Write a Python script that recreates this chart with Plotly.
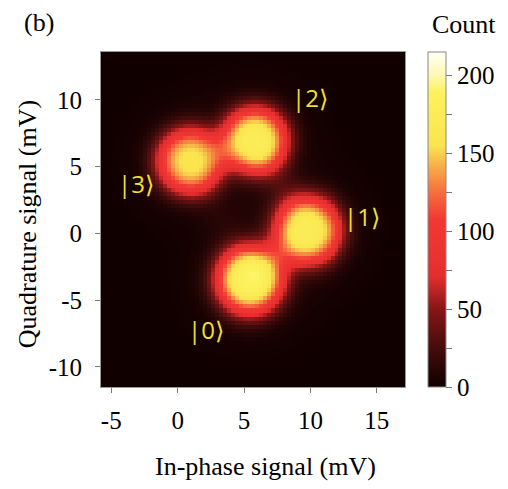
import numpy as np
import plotly.graph_objects as go

# Readout states: blob centres (mV), core peak counts and widths (mV)
states = ["|0⟩", "|1⟩", "|2⟩", "|3⟩"]
center_i = [5.4, 9.8, 5.8, 0.9]
center_q = [-3.5, 0.2, 7.0, 5.4]
peak_count = [172, 156, 160, 144]
blob_width = [2.6, 2.6, 2.52, 2.55]

# Broad low-level halo around each state
halo_count = [15, 14, 13, 12]
halo_width = [3.7, 3.7, 3.7, 3.7]

# Transition streaks between states (index pairs) and their count level
bridge_from = [0, 2, 3]
bridge_to = [1, 1, 0]
bridge_level = [12, 14, 6]

# State label positions (mV)
label_i = [2.16, 13.85, 9.96, -3.15]
label_q = [-7.2, 1.3, 10.15, 3.7]

# Histogram bins (mV)
bin_size = 0.3
i_bins = np.arange(-5.75, 17.2, bin_size)
q_bins = np.arange(-11.45, 13.65, bin_size)

cb_vals = [0, 25, 50, 75, 100, 125, 150, 175, 200]
cb_text = ["0", "", "50", "", "100", "", "150", "", "200"]
x_ticks = [-5, 0, 5, 10, 15]
x_tick_text = ["-5", "0", "5", "10", "15"]
y_ticks = [-10, -5, 0, 5, 10]
y_tick_text = ["-10", "-5", "0", "5", "10"]

I, Q = np.meshgrid(i_bins, q_bins)
counts = np.zeros_like(I)
for ci, cq, a, w, ha, hw in zip(center_i, center_q, peak_count, blob_width, halo_count, halo_width):
    r = np.hypot(I - ci, Q - cq)
    counts += a * np.exp(-(r / w) ** 3) + ha * np.exp(-(r / hw) ** 2)

# streaks fade to zero at both state centres
for a_idx, b_idx, lvl in zip(bridge_from, bridge_to, bridge_level):
    ax, ay = center_i[a_idx], center_q[a_idx]
    bx, by = center_i[b_idx], center_q[b_idx]
    dx, dy = bx - ax, by - ay
    L2 = dx * dx + dy * dy
    t = np.clip(((I - ax) * dx + (Q - ay) * dy) / L2, 0, 1)
    d = np.hypot(I - (ax + t * dx), Q - (ay + t * dy))
    counts += lvl * 4 * t * (1 - t) * np.exp(-(d / 1.4) ** 2)

zmax = 215
colorscale = [
    [0.0, "rgb(16,0,0)"],
    [0.116, "rgb(68,12,12)"],
    [0.233, "rgb(135,22,22)"],
    [0.33, "rgb(228,46,46)"],
    [0.50, "rgb(242,56,52)"],
    [0.58, "rgb(245,110,62)"],
    [0.66, "rgb(247,175,72)"],
    [0.72, "rgb(250,228,80)"],
    [0.88, "rgb(252,242,92)"],
    [0.93, "rgb(255,248,180)"],
    [1.0, "rgb(255,255,245)"],
]

serif = "Liberation Serif, Times New Roman, serif"

fig = go.Figure(
    go.Heatmap(
        x=i_bins,
        y=q_bins,
        z=counts,
        zmin=0,
        zmax=zmax,
        colorscale=colorscale,
        zsmooth=False,
        colorbar=dict(
            x=1.076,
            xanchor="left",
            xpad=0,
            y=0.5,
            yanchor="middle",
            len=1,
            ypad=0,
            thickness=18,
            outlinecolor="#888888",
            outlinewidth=1,
            tickmode="array",
            tickvals=cb_vals,
            ticktext=cb_text,
            ticks="outside",
            ticklen=6,
            tickcolor="#777777",
            tickfont=dict(family=serif, size=25, color="black"),
        ),
    )
)

annotations = []
for s, li, lq in zip(states, label_i, label_q):
    annotations.append(
        dict(x=li, y=lq, xref="x", yref="y", text=s, showarrow=False,
             font=dict(family="Open Sans, DejaVu Sans, sans-serif", size=24, color="#f2e030"))
    )
annotations += [
    dict(x=-0.26, y=1.0876, xref="paper", yref="paper", text="(b)", showarrow=False,
         xanchor="left", yanchor="middle", font=dict(family=serif, size=26, color="black")),
    dict(x=1.195, y=1.0816, xref="paper", yref="paper", text="Count", showarrow=False,
         xanchor="center", yanchor="middle", font=dict(family=serif, size=26, color="black")),
    dict(x=0.542, y=-0.237, xref="paper", yref="paper", text="In-phase signal (mV)", showarrow=False,
         xanchor="center", yanchor="middle", font=dict(family=serif, size=26, color="black")),
    dict(x=-0.239, y=0.487, xref="paper", yref="paper", text="Quadrature signal (mV)", showarrow=False,
         textangle=-90, xanchor="center", yanchor="middle", font=dict(family=serif, size=26, color="black")),
]

fig.update_layout(
    width=508,
    height=489,
    margin=dict(l=101, r=101, t=52, b=102, pad=0),
    paper_bgcolor="white",
    plot_bgcolor="rgb(16,0,0)",
    annotations=annotations,
    xaxis=dict(
        range=[-5.77, 17.12], tickvals=x_ticks, ticktext=x_tick_text, ticks="outside", ticklen=5,
        tickcolor="#777777", showgrid=False, zeroline=False, showline=True, mirror=True,
        linecolor="#999999", linewidth=1,
        tickfont=dict(family=serif, size=25, color="black"), ticklabelstandoff=6,
    ),
    yaxis=dict(
        range=[-11.5, 13.58], tickvals=y_ticks, ticktext=y_tick_text, ticks="outside", ticklen=5,
        tickcolor="#777777", showgrid=False, zeroline=False, showline=True, mirror=True,
        linecolor="#999999", linewidth=1,
        tickfont=dict(family=serif, size=25, color="black"), ticklabelstandoff=8,
    ),
)

fig.write_html("out.html")
